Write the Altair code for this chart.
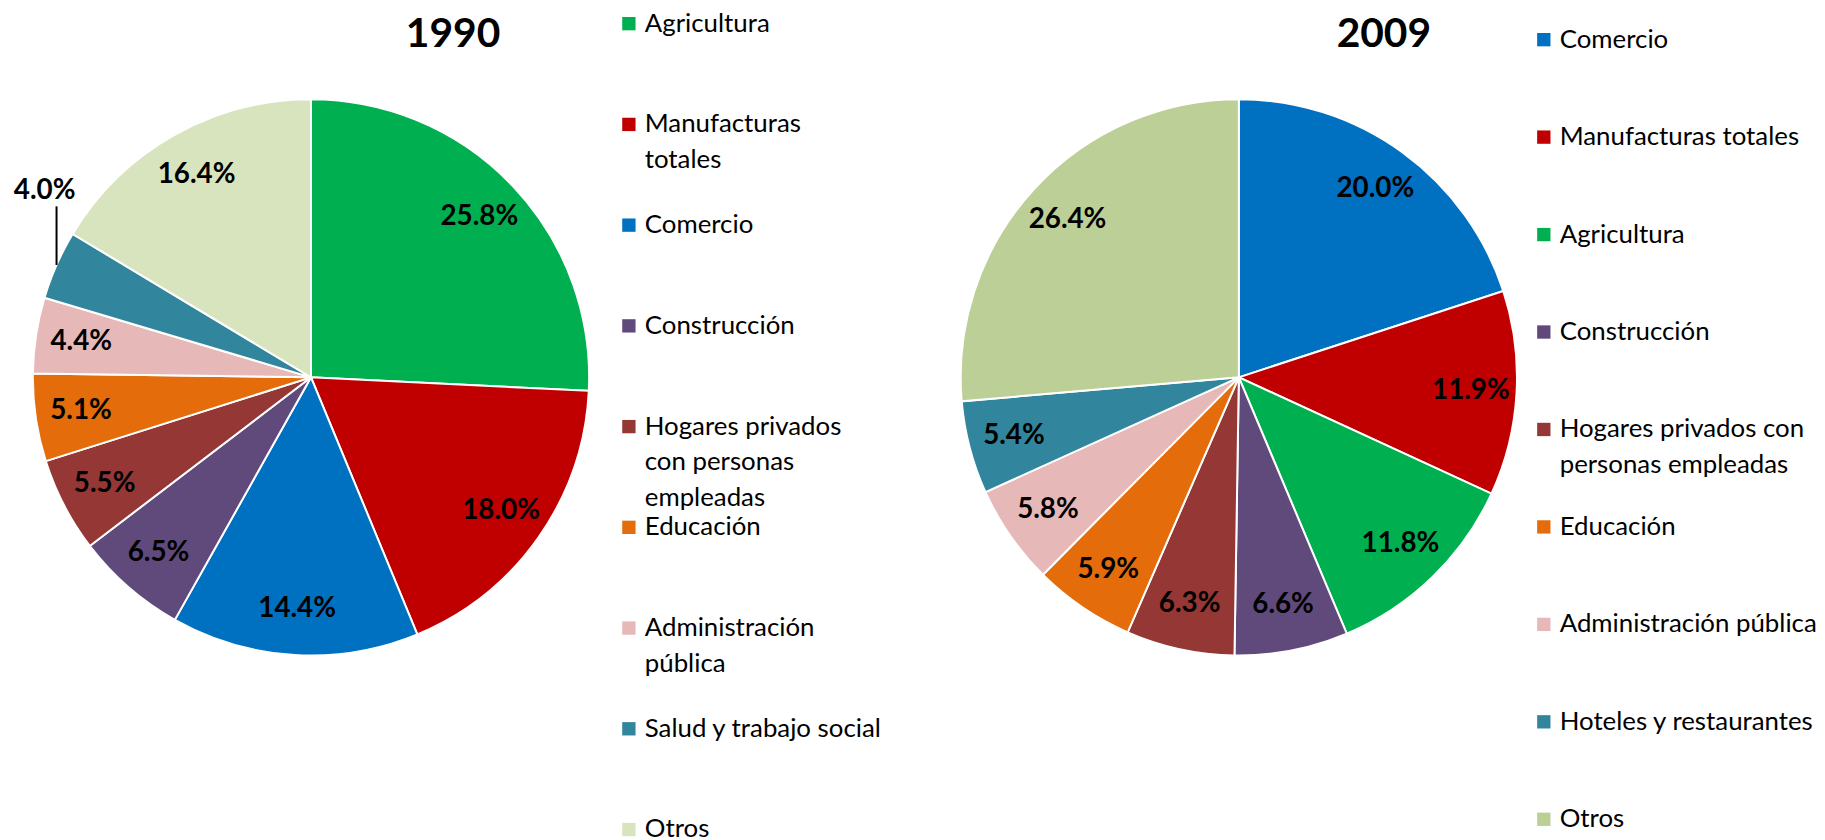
import altair as alt
import pandas as pd

# ---------------- data ----------------
sectors_1990 = ["Agricultura", "Manufacturas totales", "Comercio", "Construcción",
                "Hogares privados con personas empleadas", "Educación",
                "Administración pública", "Salud y trabajo social", "Otros"]
values_1990 = [25.8, 18.0, 14.4, 6.5, 5.5, 5.1, 4.4, 4.0, 16.4]
legend_labels_1990 = ["Agricultura", "Manufacturas\ntotales", "Comercio", "Construcción",
                      "Hogares privados\ncon personas\nempleadas", "Educación",
                      "Administración\npública", "Salud y trabajo social", "Otros"]
colors_1990 = ["#00B050", "#C00000", "#0070C0", "#604A7B", "#953735",
               "#E46C0A", "#E6B9B8", "#31859C", "#D7E4BD"]

sectors_2009 = ["Comercio", "Manufacturas totales", "Agricultura", "Construcción",
                "Hogares privados con personas empleadas", "Educación",
                "Administración pública", "Hoteles y restaurantes", "Otros"]
values_2009 = [20.0, 11.9, 11.8, 6.6, 6.3, 5.9, 5.8, 5.4, 26.4]
legend_labels_2009 = ["Comercio", "Manufacturas totales", "Agricultura", "Construcción",
                      "Hogares privados con\npersonas empleadas", "Educación",
                      "Administración pública", "Hoteles y restaurantes", "Otros"]
colors_2009 = ["#0070C0", "#C00000", "#00B050", "#604A7B", "#953735",
               "#E46C0A", "#E6B9B8", "#31859C", "#BBCF97"]

# ---------------- style ----------------
FONT = "Lato"
R = 280          # pie outer radius (px)
PIE_H = 736      # pie view height (pie centred vertically in it)
LABEL_R = 234    # radius of inside labels
LEADER = 59      # length of leader line
LEG_H = 832


def frame(sectors, values, labels):
    return pd.DataFrame({"idx": list(range(len(sectors))), "sector": sectors,
                         "value": values, "label": labels})


def pie(df, sectors, colors, title, title_dx):
    color_enc = alt.Color("sector:N", scale=alt.Scale(domain=sectors, range=colors), legend=None)
    base = alt.Chart(df).encode(
        theta=alt.Theta("value:Q", stack=True),
        order=alt.Order("idx:Q", sort="ascending"),
    )
    arcs = base.mark_arc(outerRadius=R, stroke="white", strokeWidth=2).encode(color=color_enc)
    texts = base.transform_calculate(
        lab="datum.value >= 4.1 ? format(datum.value, '.1f') + '%' : ''"
    ).mark_text(radius=LABEL_R, font=FONT, fontSize=28, fontWeight="bold", color="black").encode(
        text="lab:N", detail="sector:N")

    leader_base = alt.Chart(df).transform_joinaggregate(
        total="sum(value)"
    ).transform_window(
        cum="sum(value)", sort=[alt.SortField("idx")], frame=[None, 0]
    ).transform_calculate(
        mid="(datum.cum - datum.value / 2) / datum.total * 2 * PI",
        px=f"{R} * sin(datum.mid)",
        py=f"{R} * cos(datum.mid)",
        py2=f"{R} * cos(datum.mid) + {LEADER}",
        lab="format(datum.value, '.1f') + '%'",
    ).transform_filter("datum.value < 4.1")
    xs = alt.Scale(domain=[-R, R], nice=False, zero=False)
    ys = alt.Scale(domain=[-PIE_H / 2, PIE_H / 2], nice=False, zero=False)
    rule = leader_base.mark_rule(color="black", strokeWidth=2).encode(
        x=alt.X("px:Q", scale=xs, axis=None),
        y=alt.Y("py:Q", scale=ys, axis=None),
        y2="py2:Q")
    outlab = leader_base.mark_text(font=FONT, fontSize=28, fontWeight="bold", color="black",
                                   baseline="alphabetic", dx=-12, dy=-7).encode(
        x=alt.X("px:Q", scale=xs, axis=None),
        y=alt.Y("py2:Q", scale=ys, axis=None),
        text="lab:N")

    return alt.layer(arcs, texts, rule, outlab).properties(
        width=2 * R, height=PIE_H,
        title=alt.TitleParams(text=title, font=FONT, fontSize=41, fontWeight="bold",
                              color="black", anchor="middle", dx=title_dx, offset=-44))


def legend(df, sectors, colors, pad, align, width):
    color_enc = alt.Color("sector:N", scale=alt.Scale(domain=sectors, range=colors), legend=None)
    y = alt.Y("idx:O", axis=None, scale=alt.Scale(type="point", padding=pad, align=align))
    sq = alt.Chart(df).mark_square(size=180, opacity=1).encode(
        x=alt.value(7), y=y, color=color_enc)
    tx = alt.Chart(df).mark_text(align="left", baseline="line-top", lineBreak="\n",
                                 lineHeight=36, dy=-18, font=FONT, fontSize=26,
                                 color="black").encode(
        x=alt.value(23), y=y, text="label:N")
    return alt.layer(sq, tx).properties(width=width, height=LEG_H)


df90 = frame(sectors_1990, values_1990, legend_labels_1990)
df09 = frame(sectors_2009, values_2009, legend_labels_2009)

year1990 = alt.hconcat(
    pie(df90, sectors_1990, colors_1990, "1990", 143),
    legend(df90, sectors_1990, colors_1990, 0.1026, 0.577, 300),
    spacing=29)
year2009 = alt.hconcat(
    pie(df09, sectors_2009, colors_2009, "2009", 146),
    legend(df09, sectors_2009, colors_2009, 0.2406, 0.595, 272),
    spacing=16)

chart = alt.hconcat(year1990, year2009, spacing=37).resolve_scale(
    color="independent"
).properties(
    padding={"left": 5, "top": 0, "right": 0, "bottom": 0}
).configure_view(stroke=None)

chart.save("out.html", embed_options={"renderer": "svg", "actions": False})
